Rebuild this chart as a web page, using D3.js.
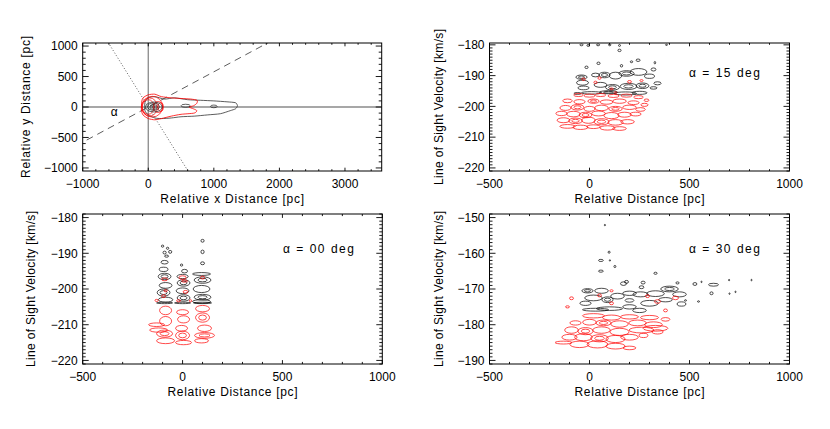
<!DOCTYPE html>
<html><head><meta charset="utf-8">
<script src="https://cdn.jsdelivr.net/npm/d3@7"></script>
<style>
body{margin:0;background:#fff}
text{font-family:"Liberation Sans",Arial,sans-serif;fill:#000}
</style></head>
<body><svg id="c" width="830" height="429"></svg>
<script>
// ---------------- DATA ----------------
const tlXTicks = [-1000, 0, 1000, 2000, 3000];
const tlYTicks = [-1000, -500, 0, 500, 1000];
const distTicks = [-500, 0, 500, 1000];
const trYTicks = [-220, -210, -200, -190, -180];
const blYTicks = [-220, -210, -200, -190, -180];
const brYTicks = [-190, -180, -170, -160, -150];
const alphaDeg = 30;

// top-left map: outlines [x, y] in pc
const tlBlackOutline = [[-50,80],[0,150],[100,170],[250,130],[400,150],[600,120],[800,110],[1000,100],[1200,85],[1330,70],[1360,20],[1330,-30],[1250,-60],[1100,-110],[900,-130],[700,-150],[500,-160],[350,-180],[200,-190],[100,-180],[0,-130],[-50,-60]];
const tlRedOutline = [[-100,80],[-80,150],[0,200],[100,210],[200,170],[350,150],[500,140],[650,130],[745,110],[740,60],[690,20],[620,0],[690,-30],[740,-60],[700,-100],[500,-120],[350,-150],[200,-190],[100,-210],[0,-190],[-80,-130],[-105,-50]];
// rings [cx, cy, rx, ry]
const tlBlackRings = [[80,0,25,20],[80,0,55,40],[80,5,90,60],[85,0,127,82],[570,20,70,25],[1000,10,50,22]];
const tlRedRings = [[20,0,120,150],[150,0,70,90],[190,0,40,70],[60,5,160,170],[0,0,90,120]];

// clumps [distance, velocity, halfWidth, halfHeight, levels]
const trBlack = [[-40,-180,8,0.3,1],[-7,-180.2,6,0.3,1],[43,-180,8,0.3,1],[101,-180,6,0.3,1],[150,-180.2,5,0.3,1],[385,-180,5,0.2,1],
 [150,-181.8,8,0.4,1],[45,-186,8,0.4,1],[160,-186.8,6,0.4,1],[243,-185,10,0.4,1],[-15,-187.3,8,0.4,1],[327,-185.8,4,0.4,1],[210,-185.5,6,0.3,1],
 [-40,-190.5,28,0.7,2],[-35,-192.3,30,0.8,1],[-30,-194,28,0.6,1],[30,-189.8,20,0.6,1],[75,-189.8,28,0.9,2],[130,-190,32,1.1,1],[185,-189.3,38,0.9,2],[245,-188.8,42,1.1,1],[300,-190.2,25,0.7,1],[320,-188,12,0.5,1],[340,-192.5,18,0.5,1],[55,-193,32,0.8,1],[115,-193.8,35,0.9,2],[195,-193.5,42,1.0,2],[265,-193.3,32,0.9,2],[320,-194,18,0.4,1],[10,-195.6,50,0.4,1],[95,-195.4,45,0.5,2],[180,-195.8,55,0.5,1],[250,-195.6,38,0.5,1],[-60,-195.8,18,0.3,1]];
const trRed = [[-30,-191.2,8,0.4,1],[30,-192.2,8,0.4,1],[50,-190.8,8,0.4,1],[200,-192,10,0.4,1],[260,-191.6,8,0.3,1],[110,-194.3,8,0.3,1],[130,-195.5,6,0.3,1],
 [-55,-196.3,24,0.5,1],[0,-196.5,28,0.5,1],[55,-196.3,26,0.5,1],[120,-196.6,28,0.5,1],[185,-196.5,28,0.5,1],[245,-197,24,0.5,1],[285,-198,12,0.4,1],
 [-110,-198.2,24,0.6,1],[-50,-198.5,28,0.7,1],[20,-198.3,28,0.7,2],[85,-198.6,32,0.7,1],[150,-198.3,34,0.7,1],[220,-198.8,28,0.6,1],[275,-199.5,18,0.5,1],
 [-120,-200.5,28,0.8,1],[-60,-200.3,32,0.9,2],[0,-200.8,28,0.8,1],[60,-200.5,34,0.9,1],[130,-200.8,34,0.8,2],[200,-200.3,34,0.7,1],[255,-201,24,0.6,1],
 [-140,-202.3,28,0.7,1],[-80,-202.5,34,0.9,1],[-20,-202.8,32,0.9,2],[45,-202.3,34,0.8,1],[110,-203,38,1.0,1],[175,-202.7,34,0.8,1],[230,-202.5,28,0.6,1],
 [-130,-204.5,32,0.8,1],[-70,-204.7,34,0.9,2],[-5,-204.5,34,1.0,1],[60,-205,38,1.0,2],[130,-205.2,38,0.9,1],[190,-205,34,0.7,1],
 [-110,-206.5,38,0.6,1],[-45,-206.8,38,0.7,1],[20,-206.6,34,0.6,1],[90,-207,38,0.7,1],[150,-207.2,34,0.6,1]];
const blBlack = [[-100,-188,6,0.3,1],[-75,-188.6,6,0.3,1],[-62,-189.6,8,0.4,1],[-90,-189.8,8,0.4,1],[-80,-190.8,10,0.3,1],[100,-186.5,8,0.4,1],[100,-189.6,8,0.5,1],[100,-192.8,10,0.4,1],[-5,-193.3,6,0.3,1],[10,-195,15,0.5,1],[-90,-192.5,18,0.5,1],[-95,-194.5,22,0.6,1],[-90,-196.5,32,0.9,2],[-85,-199,32,0.8,1],[-95,-201,32,1.0,2],[-85,-203,36,0.7,1],
 [0,-196.5,28,0.6,1],[5,-198.3,32,0.9,2],[0,-200.5,32,0.8,1],[5,-202.5,32,0.9,2],
 [95,-195.8,45,0.4,1],[100,-197.5,42,0.9,2],[95,-200,42,1.0,1],[100,-202.3,42,0.8,2],[95,-203.5,45,0.5,1],
 [-90,-203.9,40,0.2,1],[0,-203.9,40,0.2,1],[100,-203.9,45,0.2,1]];
const blRed = [[-90,-197.3,15,0.4,1],[0,-196.8,18,0.5,1],[10,-197.8,15,0.3,1],[15,-200.8,12,0.4,1],[100,-196.8,10,0.4,1],[-95,-202,10,0.4,1],[-85,-200.5,8,0.3,1],[-130,-203.2,8,0.3,1],[-20,-203.3,10,0.3,1],[40,-203.3,6,0.3,1],
 [-85,-206,30,1.2,1],[-85,-209,30,1.3,1],[-130,-210,40,0.5,1],[-120,-211.5,45,0.6,1],[-90,-212.5,40,1.0,2],[-85,-214.5,45,0.8,1],
 [0,-206.5,30,0.7,1],[5,-208.5,30,1.0,1],[-5,-211,30,0.8,1],[0,-213,35,1.2,2],[5,-215,40,0.6,1],
 [100,-205.5,35,0.9,1],[100,-208,35,1.3,2],[110,-211,35,0.9,1],[110,-213,50,0.8,2],[95,-214.5,35,0.6,1]];
const brBlack = [[77,-152.1,3,0.2,1],[98,-159.7,5,0.3,1],[57,-162,12,0.3,1],[102,-162,3,0.2,1],[57,-165,12,0.3,1],[127,-163.7,5,0.3,1],[330,-165.6,8,0.3,1],[185,-168,10,0.4,1],[268,-168.2,10,0.4,1],[440,-168.3,8,0.3,1],[527,-168.6,10,0.4,1],[560,-168,3,0.2,1],[620,-168.8,25,0.4,1],[698,-167.5,3,0.2,1],[810,-167.5,2,0.2,1],[610,-171.2,8,0.4,1],[700,-171.3,3,0.2,1],[730,-170.8,3,0.2,1],[545,-173.5,5,0.2,1],[480,-173.2,5,0.2,1],
 [-10,-170.5,28,0.6,2],[60,-170.5,34,0.7,1],[20,-172.5,44,0.8,1],[-20,-174,28,0.6,1],[90,-173,28,0.8,2],[140,-172,34,0.8,1],[200,-171.2,34,0.6,1],[255,-171.5,38,0.7,1],[330,-171.3,44,0.8,1],[400,-170,44,0.8,2],[450,-171.5,34,0.7,1],[300,-174,44,0.8,1],[380,-173,34,0.6,1],[460,-174.2,22,0.6,1],[100,-175.5,65,0.5,1],[30,-175.8,65,0.4,1],[200,-175,34,0.6,1],[250,-176,34,0.6,1],[170,-168.5,15,0.5,1],[260,-169.5,12,0.4,1],[200,-173.2,22,0.5,1]];
const brRed = [[-90,-172.6,10,0.4,1],[-110,-175,10,0.3,1],[50,-171.8,10,0.4,1],[110,-174,10,0.4,1],[110,-170.5,8,0.3,1],[290,-172,10,0.4,1],[340,-173.5,15,0.5,1],[430,-172.5,15,0.5,1],[380,-176,10,0.4,1],
 [20,-177.5,55,0.6,1],[110,-178,45,0.7,1],[200,-177.8,45,0.6,1],[300,-178,45,0.6,1],[380,-178.5,22,0.5,1],
 [-70,-179.5,28,0.6,1],[0,-179.3,34,0.8,1],[70,-179.5,38,0.8,2],[150,-179.8,44,0.9,1],[240,-179.5,44,0.8,1],[320,-180,44,0.8,1],
 [-90,-181.5,34,0.9,1],[-20,-181.8,38,1.0,2],[60,-181.5,44,0.9,1],[150,-182,48,1.0,1],[260,-181.5,62,0.8,1],[330,-181,62,0.8,1],
 [-100,-183.5,38,0.8,1],[-30,-183.5,44,1.0,1],[50,-183.8,44,1.0,2],[130,-184,48,1.0,1],[200,-183.5,44,0.8,1],[270,-183,22,0.6,1],[340,-182,28,0.6,1],
 [-130,-185,42,0.4,1],[-50,-185.5,48,0.9,1],[40,-185.5,52,1.0,1],[130,-186,48,0.8,1],[200,-186.5,32,0.5,1]];

const annotations = ["α = 15 deg", "α = 00 deg", "α = 30 deg"];
const titles = {mapX: "Relative x Distance [pc]", mapY: "Relative y Distance [pc]", distX: "Relative Distance [pc]", velY: "Line of Sight Velocity [km/s]"};

// ---------------- DRAW ----------------
const svg = d3.select("#c");
const fmt = d3.format("d");
let clipId = 0;

function panel(cfg) {
  const x = d3.scaleLinear().domain(cfg.xDomain).range([cfg.left, cfg.right]);
  const y = d3.scaleLinear().domain(cfg.yDomain).range([cfg.bottom, cfg.top]);
  const g = svg.append("g");
  const id = "clip" + (clipId++);
  g.append("clipPath").attr("id", id).append("rect")
    .attr("x", cfg.left).attr("y", cfg.top).attr("width", cfg.right - cfg.left).attr("height", cfg.bottom - cfg.top);
  const plot = g.append("g").attr("clip-path", `url(#${id})`);
  const frame = g.append("g");
  frame.append("rect").attr("x", cfg.left).attr("y", cfg.top).attr("width", cfg.right - cfg.left).attr("height", cfg.bottom - cfg.top)
    .attr("fill", "none").attr("stroke", "#000").attr("stroke-width", 1);
  const W = cfg.right - cfg.left, H = cfg.bottom - cfg.top;
  const xMaj = 0.02 * H, yMaj = 0.02 * W;
  const xd = cfg.xDomain;
  for (let v = Math.ceil(xd[0] / cfg.xMinor) * cfg.xMinor; v <= xd[1] + 1e-9; v += cfg.xMinor) {
    const isMaj = cfg.xTicks.some(t => Math.abs(t - v) < 1e-6);
    const L = isMaj ? xMaj * 1.3 : xMaj * 0.7;
    const px = x(v);
    frame.append("line").attr("x1", px).attr("x2", px).attr("y1", cfg.bottom).attr("y2", cfg.bottom - L).attr("stroke", "#000").attr("stroke-width", 0.9);
    frame.append("line").attr("x1", px).attr("x2", px).attr("y1", cfg.top).attr("y2", cfg.top + L).attr("stroke", "#000").attr("stroke-width", 0.9);
  }
  const yd = cfg.yDomain;
  const ylo = Math.min(yd[0], yd[1]), yhi = Math.max(yd[0], yd[1]);
  for (let v = Math.ceil(ylo / cfg.yMinor) * cfg.yMinor; v <= yhi + 1e-9; v += cfg.yMinor) {
    const isMaj = cfg.yTicks.some(t => Math.abs(t - v) < 1e-6);
    const L = isMaj ? yMaj : yMaj * 0.5;
    const py = y(v);
    frame.append("line").attr("y1", py).attr("y2", py).attr("x1", cfg.left).attr("x2", cfg.left + L).attr("stroke", "#000").attr("stroke-width", 0.9);
    frame.append("line").attr("y1", py).attr("y2", py).attr("x1", cfg.right).attr("x2", cfg.right - L).attr("stroke", "#000").attr("stroke-width", 0.9);
  }
  frame.selectAll(null).data(cfg.xTicks).join("text")
    .attr("x", d => x(d)).attr("y", cfg.bottom + 17).attr("text-anchor", "middle").attr("font-size", 12)
    .text(d => fmt(d));
  frame.selectAll(null).data(cfg.yTicks).join("text")
    .attr("x", cfg.left - 5).attr("y", d => y(d)).attr("dy", "0.36em").attr("text-anchor", "end").attr("font-size", 12)
    .text(d => fmt(d));
  frame.append("text").attr("x", (cfg.left + cfg.right) / 2).attr("y", cfg.bottom + 32).attr("text-anchor", "middle")
    .attr("font-size", 12).attr("textLength", cfg.xTitleLen).attr("lengthAdjust", "spacing").text(cfg.xTitle);
  frame.append("text").attr("transform", `translate(${cfg.yTitleX},${(cfg.top + cfg.bottom) / 2}) rotate(-90)`)
    .attr("text-anchor", "middle").attr("font-size", 12).attr("textLength", cfg.yTitleLen).attr("lengthAdjust", "spacing").text(cfg.yTitle);
  return {x, y, plot, frame};
}

function drawClumps(p, data, color) {
  const rows = [];
  data.forEach(d => {
    for (let k = 0; k < d[4]; k++) rows.push({cx: d[0], cy: d[1], rx: d[2] * (1 - 0.45 * k), ry: d[3] * (1 - 0.45 * k)});
  });
  p.plot.selectAll(null).data(rows).join("ellipse")
    .attr("cx", d => p.x(d.cx)).attr("cy", d => p.y(d.cy))
    .attr("rx", d => Math.max(0.6, Math.abs(p.x(d.cx + d.rx) - p.x(d.cx))))
    .attr("ry", d => Math.max(0.5, Math.abs(p.y(d.cy + d.ry) - p.y(d.cy))))
    .attr("fill", "none").attr("stroke", color).attr("stroke-width", 0.7);
}

// ---- Top-left map
const tl = panel({left: 82.7, right: 381.7, top: 43, bottom: 171, xDomain: [-1000, 3560], yDomain: [-1050, 1050],
  xTicks: tlXTicks, yTicks: tlYTicks, xMinor: 200, yMinor: 100,
  xTitle: titles.mapX, xTitleLen: 144, yTitle: titles.mapY, yTitleLen: 142, yTitleX: 30});
tl.plot.append("line").attr("x1", tl.x(-1000)).attr("x2", tl.x(3560)).attr("y1", tl.y(0)).attr("y2", tl.y(0)).attr("stroke", "#8a8a8a").attr("stroke-width", 1.3);
tl.plot.append("line").attr("x1", tl.x(0)).attr("x2", tl.x(0)).attr("y1", tl.y(-1050)).attr("y2", tl.y(1050)).attr("stroke", "#8a8a8a").attr("stroke-width", 1.3);
const tanA = Math.tan(alphaDeg * Math.PI / 180);
tl.plot.append("line").attr("x1", tl.x(-1100)).attr("y1", tl.y(-1100 * tanA)).attr("x2", tl.x(2000)).attr("y2", tl.y(2000 * tanA))
  .attr("stroke", "#333").attr("stroke-width", 0.8).attr("stroke-dasharray", "7,5");
tl.plot.append("line").attr("x1", tl.x(-1100 * tanA)).attr("y1", tl.y(1100)).attr("x2", tl.x(1100 * tanA)).attr("y2", tl.y(-1100))
  .attr("stroke", "#333").attr("stroke-width", 0.8).attr("stroke-dasharray", "1,2");
const closed = d3.line().x(d => tl.x(d[0])).y(d => tl.y(d[1])).curve(d3.curveCardinalClosed.tension(0.3));
tl.plot.append("path").attr("d", closed(tlBlackOutline)).attr("fill", "none").attr("stroke", "#333").attr("stroke-width", 0.8);
tl.plot.append("path").attr("d", closed(tlRedOutline)).attr("fill", "none").attr("stroke", "#f00").attr("stroke-width", 0.8);
tl.plot.selectAll(null).data(tlRedRings).join("ellipse")
  .attr("cx", d => tl.x(d[0])).attr("cy", d => tl.y(d[1]))
  .attr("rx", d => tl.x(d[0] + d[2]) - tl.x(d[0])).attr("ry", d => tl.y(d[1]) - tl.y(d[1] + d[3]))
  .attr("fill", "none").attr("stroke", "#f00").attr("stroke-width", 0.7);
tl.plot.selectAll(null).data(tlBlackRings).join("ellipse")
  .attr("cx", d => tl.x(d[0])).attr("cy", d => tl.y(d[1]))
  .attr("rx", d => tl.x(d[0] + d[2]) - tl.x(d[0])).attr("ry", d => tl.y(d[1]) - tl.y(d[1] + d[3]))
  .attr("fill", "none").attr("stroke", "#222").attr("stroke-width", 0.7);
tl.frame.append("text").attr("x", tl.x(-520)).attr("y", tl.y(-150)).attr("font-size", 12).attr("text-anchor", "middle").text("α");

// ---- Top-right
const tr = panel({left: 489.5, right: 789.5, top: 43, bottom: 171, xDomain: [-500, 1000], yDomain: [-221, -179.4],
  xTicks: distTicks, yTicks: trYTicks, xMinor: 100, yMinor: 1,
  xTitle: titles.distX, xTitleLen: 130, yTitle: titles.velY, yTitleLen: 156, yTitleX: 443});
drawClumps(tr, trBlack, "#000");
drawClumps(tr, trRed, "#f00");
tr.frame.append("text").attr("x", 689).attr("y", 77).attr("font-size", 12).attr("textLength", 71).attr("lengthAdjust", "spacing").text(annotations[0]);

// ---- Bottom-left
const bl = panel({left: 82.7, right: 382.3, top: 214, bottom: 364, xDomain: [-500, 1000], yDomain: [-221, -179],
  xTicks: distTicks, yTicks: blYTicks, xMinor: 100, yMinor: 1,
  xTitle: titles.distX, xTitleLen: 130, yTitle: titles.velY, yTitleLen: 156, yTitleX: 35});
drawClumps(bl, blBlack, "#000");
drawClumps(bl, blRed, "#f00");
bl.frame.append("text").attr("x", 283).attr("y", 253).attr("font-size", 12).attr("textLength", 71).attr("lengthAdjust", "spacing").text(annotations[1]);

// ---- Bottom-right
const br = panel({left: 489.5, right: 789.5, top: 214, bottom: 364, xDomain: [-500, 1000], yDomain: [-191, -149],
  xTicks: distTicks, yTicks: brYTicks, xMinor: 100, yMinor: 1,
  xTitle: titles.distX, xTitleLen: 130, yTitle: titles.velY, yTitleLen: 156, yTitleX: 443});
drawClumps(br, brBlack, "#000");
drawClumps(br, brRed, "#f00");
br.frame.append("text").attr("x", 689).attr("y", 253).attr("font-size", 12).attr("textLength", 71).attr("lengthAdjust", "spacing").text(annotations[2]);
</script></body></html>
